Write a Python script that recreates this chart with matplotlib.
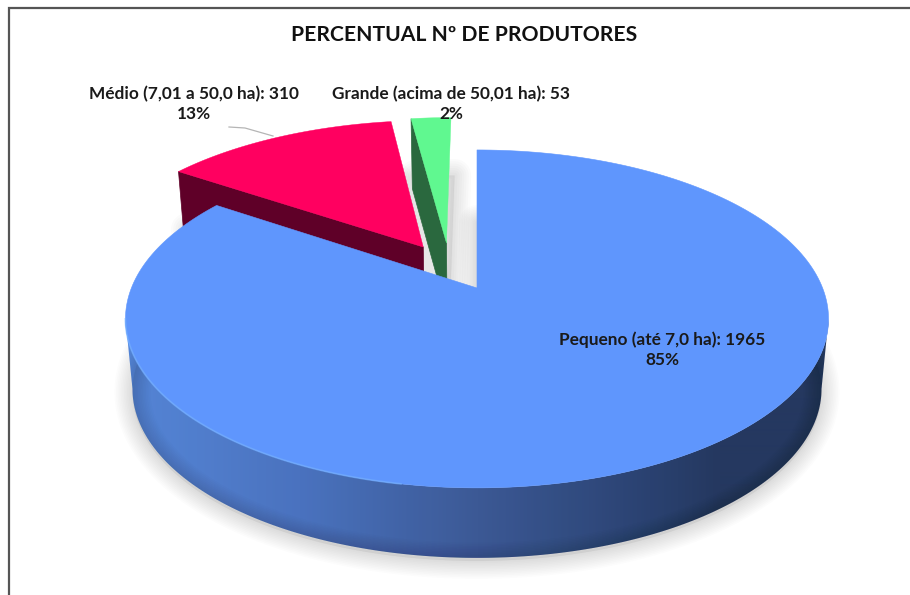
import numpy as np
import matplotlib
matplotlib.use("Agg")
import matplotlib.pyplot as plt
from matplotlib.colors import to_rgb
from matplotlib.patches import Polygon

categorias = ["Pequeno (até 7,0 ha)", "Médio (7,01 a 50,0 ha)", "Grande (acima de 50,01 ha)"]
produtores = [1965, 310, 53]
percentuais = [85, 13, 2]
titulo = "PERCENTUAL Nº DE PRODUTORES"

cor_topo = ["#5f96fd", "#ff0060", "#60f890"]
cor_corte = ["#283c66", "#5f0028", "#2a683e"]
afastamento = [(0.0, 0.0), (-0.163, 0.263), (-0.093, 0.29)]

# projecao em perspectiva do disco unitario para pixels
CX, CY, A, B, K = 477.0, 288.0, 345.6, 163.3, 0.183
ALTURA = 70.0


def projeta(u, v):
    d = 1 + K * v
    return CX + A * u / d, CY - B * v / d


def base(x, y):
    return CX + (x - CX) * 0.98, y + ALTURA


def fatia(ini, fim, desl):
    t = np.radians(np.linspace(ini, fim, 240))
    u = np.r_[np.sin(t), 0] + desl[0]
    v = np.r_[np.cos(t), 0] + desl[1]
    return projeta(u, v)


def sombra(x, y, passos=12, largura=26, alfa=0.011):
    for lw in np.linspace(largura, 1, passos):
        ax.fill(x, y, fc="none", ec="k", lw=lw, alpha=alfa, joinstyle="round")
    ax.fill(x, y, color="#000000", alpha=0.06, lw=0)


fig = plt.figure(figsize=(9.1, 5.95), dpi=100)
ax = fig.add_axes([0, 0, 1, 1])
ax.axis("off")

# moldura
ax.plot([9, 9, 910], [595, 8, 8], color="#555555", lw=1.6, solid_joinstyle="miter")

total = sum(produtores)
angulos = np.r_[0, np.cumsum(produtores)] / total * 360

# sombras no fundo
x0, y0 = fatia(angulos[0], angulos[1], afastamento[0])
xb, yb = base(x0, y0)
sombra(xb, yb + 3)
for i in [2, 1]:
    xs, ys = fatia(angulos[i], angulos[i + 1], afastamento[i])
    xs, ys = base(xs, ys)
    sombra(xs + 3, ys - 12, passos=8, largura=24, alfa=0.016)

# fatias afastadas, de tras para a frente
for i in [1, 2]:
    xt, yt = fatia(angulos[i], angulos[i + 1], afastamento[i])
    xq = [xt[0], xt[-1]]
    yq = [yt[0], yt[-1]]
    xqb, yqb = base(np.array(xq), np.array(yq))
    ax.fill([xq[0], xq[1], xqb[1], xqb[0]], [yq[0], yq[1], yqb[1], yqb[0]],
            color=cor_corte[i], lw=0.5)
    ax.fill(xt, yt, color=cor_topo[i], lw=0.3)

# lateral da fatia grande com degrade horizontal, so a parte da frente
pos_x = [127, 300, 478, 650, 720, 830]
cores_x = np.array([to_rgb(c) for c in ["#5b8ee4", "#4f7acb", "#405f9f", "#2d4678", "#283c66", "#283c66"]])
extremo = np.degrees(np.arcsin(K))
t = np.radians(np.linspace(90 + extremo, 270 - extremo, 360))
xr, yr = projeta(np.sin(t), np.cos(t))
xrb, yrb = base(xr, yr)
colunas = np.arange(120, 840)
degrade = np.stack([np.interp(colunas, pos_x, cores_x[:, c]) for c in range(3)], axis=1)[None, :, :]
img = ax.imshow(degrade, extent=(120, 840, 600, 100), aspect="auto", interpolation="bilinear")
recorte = Polygon(np.c_[np.r_[xr, xrb[::-1]], np.r_[yr, yrb[::-1]]], transform=ax.transData)
img.set_clip_path(recorte)

ax.fill(x0, y0, color=cor_topo[0], lw=0.4)

# brilho na borda esquerda da tampa
graus = np.degrees(t)
brilho = (graus > 190) & (graus < 275)
ax.plot(xr[brilho], yr[brilho], color="#74b0ff", lw=1.3, alpha=0.6)

# linha de chamada
ax.plot([229, 245, 273], [127, 128, 136], color="#b5b5b5", lw=0.9)

fonte = "Lato"
ax.text(464, 35, titulo, ha="center", va="center", fontsize=15.2, fontweight="bold",
        family=fonte, color="#111111")
pos_rotulos = [(662, 349.5), (194, 104), (451, 104)]
for nome, n, p, (xl, yl) in zip(categorias, produtores, percentuais, pos_rotulos):
    ax.text(xl, yl, f"{nome}: {n}\n{p}%", ha="center", va="center", fontsize=12.4,
            fontweight="bold", family=fonte, color="#1a1a1a", linespacing=1.32)

ax.set_xlim(0, 910)
ax.set_ylim(595, 0)

fig.savefig("out.png", dpi=100)
